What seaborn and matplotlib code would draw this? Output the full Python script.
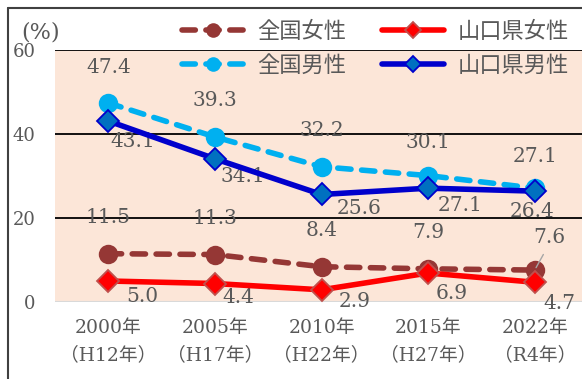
import numpy as np
import pandas as pd
import matplotlib
matplotlib.use('Agg')
import matplotlib.pyplot as plt
import seaborn as sns
from matplotlib.lines import Line2D


# data
years = ['2000年\n（H12年）', '2005年\n（H17年）', '2010年\n（H22年）',
         '2015年\n（H27年）', '2022年\n（R4年）']
zenkokuJosei    = [11.5, 11.3, 8.4, 7.9, 7.6]
yamaguchiJosei  = [5.0, 4.4, 2.9, 6.9, 4.7]
zenkokuDansei   = [47.4, 39.3, 32.2, 30.1, 27.1]
yamaguchiDansei = [43.1, 34.1, 25.6, 27.1, 26.4]

# label offsets in pixels (dx, dy up)
offZJ = [(0, 36), (0, 36), (0, 36), (0, 36), (15, 33)]
offYJ = [(34, -15), (23, -14), (33, -12), (24, -20), (25, -21)]
offZD = [(0, 35), (0, 36), (0, 36), (0, 33), (0, 32)]
offYD = [(24, -21), (28, -18), (38, -14), (32, -17), (-3, -20)]

textColor = '#595959'
serifFam  = ['DejaVu Serif', 'Noto Sans CJK JP']
cjkFam    = ['Noto Sans CJK JP', 'DejaVu Sans']

sns.set_style('white')
plt.rcParams['font.family'] = serifFam

W, H = 582, 379
fig = plt.figure(figsize=(W / 100, H / 100), dpi=100)
ax = fig.add_axes([55 / W, (H - 302) / H, (588 - 55) / W, 252 / H])
ax.set_facecolor('#FCE6D8')

x = np.arange(len(years))
df = pd.DataFrame({'x': x, 'zj': zenkokuJosei, 'yj': yamaguchiJosei,
                   'zd': zenkokuDansei, 'yd': yamaguchiDansei})

lw = 4.0
dash = (0, (2.4, 1.9))
sns.lineplot(data=df, x='x', y='zj', ax=ax, color='#953735', linewidth=lw,
             linestyle=dash, dash_capstyle='round', marker='o', markersize=14,
             markeredgewidth=0, label='全国女性', zorder=3)
sns.lineplot(data=df, x='x', y='zd', ax=ax, color='#00B0F0', linewidth=lw,
             linestyle=dash, dash_capstyle='round', marker='o', markersize=14,
             markeredgewidth=0, label='全国男性', zorder=3)
sns.lineplot(data=df, x='x', y='yj', ax=ax, color='#FF0000', linewidth=lw,
             marker='D', markersize=11, markerfacecolor='#FF0000',
             markeredgecolor='#C0504D', markeredgewidth=1.3,
             label='山口県女性', zorder=4)
sns.lineplot(data=df, x='x', y='yd', ax=ax, color='#0000CC', linewidth=lw,
             marker='D', markersize=11, markerfacecolor='#0070C0',
             markeredgecolor='#0000CC', markeredgewidth=1.3,
             label='山口県男性', zorder=4)

# data labels
for vals, offs in [(zenkokuJosei, offZJ), (yamaguchiJosei, offYJ),
                   (zenkokuDansei, offZD), (yamaguchiDansei, offYD)]:
    for i, (v, (dx, dy)) in enumerate(zip(vals, offs)):
        ax.annotate(f'{v:.1f}', (x[i], v), xytext=(dx, dy),
                    textcoords='offset pixels', ha='center', va='center',
                    fontsize=14.5, color=textColor, family=serifFam, zorder=2)

# leader line for last 全国女性 label
ax.annotate('', (x[4], zenkokuJosei[4]), xytext=(10, 18), textcoords='offset pixels',
            arrowprops=dict(arrowstyle='-', color='#A6A6A6', lw=1), zorder=5)

ax.set_xlim(-0.5, len(years) - 0.5)
ax.set_ylim(0, 60)
ax.set_yticks([0, 20, 40, 60])
ax.set_xticks(x)
ax.set_xticklabels(years, linespacing=1.7)
ax.set_xlabel('')
ax.set_ylabel('')
for yv in [20, 40, 60]:
    ax.axhline(yv, color='black', linewidth=1.3, zorder=1)
ax.axhline(0, color='#D9D9D9', linewidth=1.5, zorder=1)
for s in ax.spines.values():
    s.set_visible(False)
ax.tick_params(axis='y', length=0, pad=14, labelsize=13, labelcolor=textColor)
ax.tick_params(axis='x', length=0, pad=12, labelsize=13.5, labelcolor=textColor)

fig.text(41 / W, 1 - 33 / H, '(%)', ha='center', va='center', fontsize=16,
         color=textColor, family=serifFam)

# legend
h, l = ax.get_legend_handles_labels()
ax.legend(h, l, ncol=2,
          loc='upper left', bbox_to_anchor=(182 / W, 1 - 20 / H),
          bbox_transform=fig.transFigure, frameon=False, borderpad=0,
          borderaxespad=0, handlelength=2.8, handletextpad=0.6,
          columnspacing=1.6, labelspacing=0.5, markerscale=0.75,
          prop={'family': cjkFam, 'size': 16}, labelcolor=textColor)

# outer chart border (left and top)
fig.add_artist(Line2D([8 / W, 8 / W], [0, 1 - 8 / H], color='#404040', lw=1.5))
fig.add_artist(Line2D([8 / W, 1], [1 - 8 / H, 1 - 8 / H], color='#404040', lw=1.5))

plt.savefig('out.png', dpi=100)
plt.close()
